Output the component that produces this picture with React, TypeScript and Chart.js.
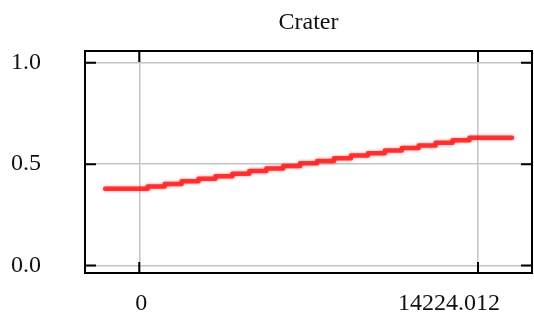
import { useEffect, useRef } from 'react';
import { Chart, registerables } from 'chart.js';

Chart.register(...registerables);

const chartTitle = 'Crater';
const xValues = [-1430, 0, 711, 1422, 2134, 2845, 3556, 4267, 4978, 5690, 6401, 7112, 7823, 8534, 9246, 9957, 10668, 11379, 12090, 12802, 13513, 14224, 15650];
const yValues = [0.379, 0.379, 0.39, 0.402, 0.415, 0.428, 0.44, 0.453, 0.466, 0.478, 0.491, 0.504, 0.516, 0.529, 0.542, 0.554, 0.567, 0.58, 0.592, 0.605, 0.618, 0.63, 0.63];
const xTickValues = [0, 14224.012];
const xTickLabels = ['0', '14224.012'];
const yTickValues = [0, 0.5, 1.0];
const yTickLabels = ['0.0', '0.5', '1.0'];
const xRange = [-2278, 16490];
const yRange = [-0.037, 1.058];

const FONT = "'Liberation Serif', 'Times New Roman', serif";

const framePlugin = {
  id: 'frame',
  beforeDatasetsDraw(chart: any) {
    const ctx = chart.ctx;
    ctx.save();
    ctx.shadowColor = 'rgba(255, 0, 0, 0.6)';
    ctx.shadowBlur = 3;
  },
  afterDatasetsDraw(chart: any) {
    const { ctx, chartArea: a, scales } = chart;
    ctx.restore();
    ctx.save();
    ctx.strokeStyle = '#000';
    ctx.lineWidth = 2;
    ctx.strokeRect(a.left, a.top, a.right - a.left, a.bottom - a.top);
    const L = 11;
    ctx.beginPath();
    for (const v of xTickValues) {
      const px = scales.x.getPixelForValue(v);
      ctx.moveTo(px, a.top);
      ctx.lineTo(px, a.top + L);
      ctx.moveTo(px, a.bottom);
      ctx.lineTo(px, a.bottom - L);
    }
    for (const v of yTickValues) {
      const py = scales.y.getPixelForValue(v);
      ctx.moveTo(a.left, py);
      ctx.lineTo(a.left + L, py);
      ctx.moveTo(a.right, py);
      ctx.lineTo(a.right - L, py);
    }
    ctx.stroke();
    // x tick labels (last one is pulled left so it stays clear of the frame corner)
    ctx.fillStyle = '#111';
    ctx.font = `24px ${FONT}`;
    ctx.textBaseline = 'middle';
    xTickValues.forEach((v, i) => {
      const px = scales.x.getPixelForValue(v);
      const label = xTickLabels[i];
      const w = ctx.measureText(label).width;
      const isLast = i === xTickValues.length - 1 && i > 0;
      ctx.textAlign = 'left';
      const left = isLast ? Math.min(px - w / 2, a.right - 32 - w) : px - w / 2 + 2;
      ctx.fillText(label, left, a.bottom + 31);
    });
    ctx.restore();
  },
};

export default function App() {
  const ref = useRef<HTMLCanvasElement | null>(null);
  useEffect(() => {
    document.body.style.margin = '0';
    const canvas = ref.current;
    if (!canvas) return;
    const chart = new Chart(canvas, {
      type: 'line',
      data: {
        datasets: [
          {
            data: xValues.map((x, i) => ({ x, y: yValues[i] })),
            borderColor: 'rgba(250, 30, 30, 0.85)',
            borderWidth: 4.5,
            pointRadius: 0,
            stepped: 'middle',
            borderJoinStyle: 'round',
            borderCapStyle: 'round',
            fill: false,
          },
        ],
      },
      options: {
        animation: false,
        responsive: false,
        devicePixelRatio: 1,
        layout: { padding: { left: 0, right: 2, top: 0, bottom: 0 } },
        plugins: {
          legend: { display: false },
          tooltip: { enabled: false },
          title: {
            display: true,
            fullSize: false,
            text: chartTitle,
            color: '#111',
            font: { family: FONT, size: 24, weight: 'normal' },
            padding: { top: 8, bottom: 14.2 },
          },
        },
        scales: {
          x: {
            type: 'linear',
            min: xRange[0],
            max: xRange[1],
            afterBuildTicks: (s: any) => {
              s.ticks = xTickValues.map((value) => ({ value }));
            },
            afterFit: (s: any) => {
              s.height = 49;
              s.paddingLeft = 0;
              s.paddingRight = 0;
            },
            ticks: { display: false },
            grid: { color: '#c4c4c4', lineWidth: 1.5, drawTicks: false },
            border: { display: false },
          },
          y: {
            type: 'linear',
            min: yRange[0],
            max: yRange[1],
            afterBuildTicks: (s: any) => {
              s.ticks = yTickValues.map((value) => ({ value }));
            },
            afterFit: (s: any) => {
              s.width = 85;
              s.paddingTop = 0;
              s.paddingBottom = 0;
            },
            ticks: {
              color: '#111',
              font: { family: FONT, size: 24 },
              padding: 44,
              callback: (v: any) => {
                const i = yTickValues.indexOf(Number(v));
                return i >= 0 ? yTickLabels[i] : '';
              },
            },
            grid: { color: '#c4c4c4', lineWidth: 1.5, drawTicks: false },
            border: { display: false },
          },
        },
      },
      plugins: [framePlugin],
    } as any);
    return () => chart.destroy();
  }, []);
  return (
    <div style={{ width: 534, height: 322, background: '#fff' }}>
      <canvas ref={ref} width={534} height={322} style={{ display: 'block' }} />
    </div>
  );
}
